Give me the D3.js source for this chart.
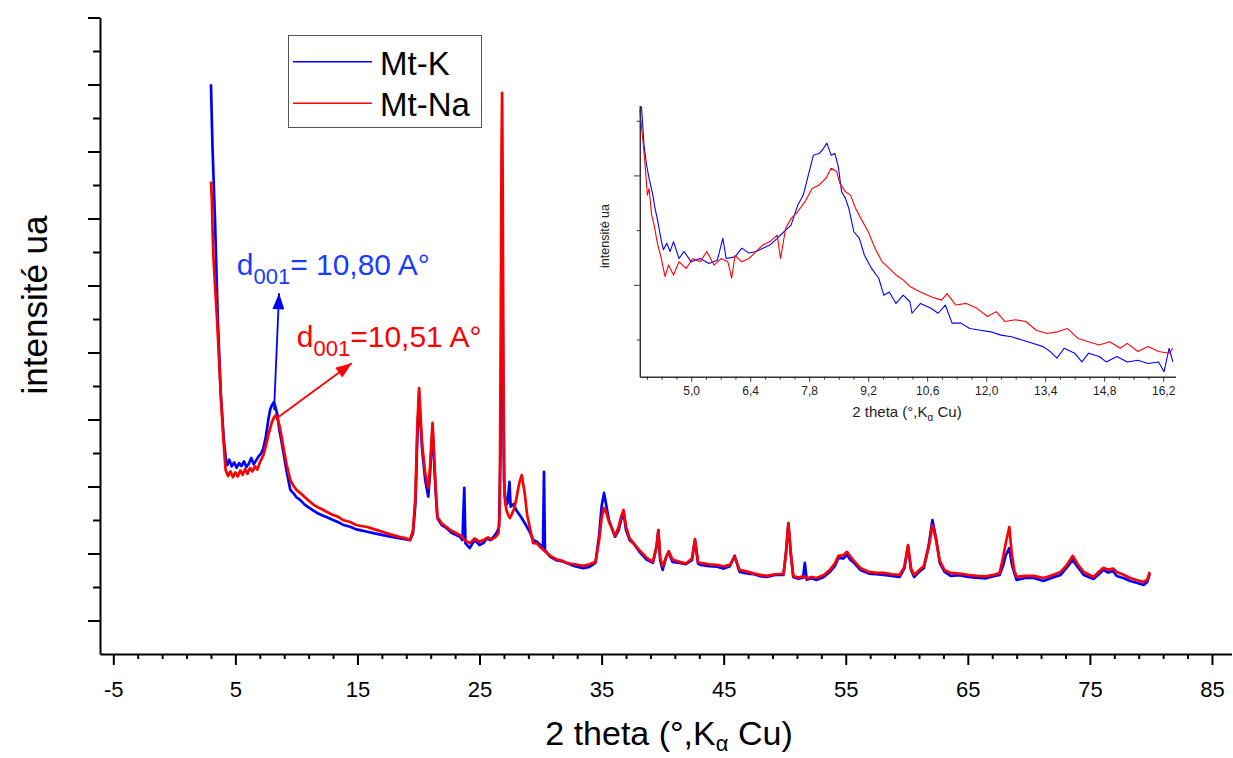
<!DOCTYPE html>
<html>
<head>
<meta charset="utf-8">
<script src="https://cdn.jsdelivr.net/npm/d3@7/dist/d3.min.js"></script>
<style>
    body { margin: 0; background: #fff; }
    svg { font-family: "Liberation Sans", Arial, sans-serif; }
</style>
</head>
<body>
<div id="chart"></div>
<script>
// main pattern, [2 theta, intensity (a.u.)]
var mtK = [[3.0,1701],[3.12,1520],[3.25,1380],[3.33,1296],[3.55,1010],[3.8,778],[4.05,640],[4.23,579],[4.34,564],[4.5,580],[4.7,560],[4.9,572],[5.1,556],[5.3,570],[5.5,561],[5.7,575],[5.9,558],[6.1,568],[6.3,585],[6.5,566],[6.7,578],[6.9,590],[7.1,598],[7.3,615],[7.5,650],[7.7,699],[7.85,730],[8.0,743],[8.15,752],[8.3,735],[8.45,712],[8.6,669],[8.75,640],[8.93,603],[9.2,545],[9.5,490],[9.8,478],[10.0,468],[10.3,460],[10.7,445],[11.0,438],[11.4,428],[11.7,421],[12.1,414],[12.5,408],[13.0,400],[13.4,394],[13.8,386],[14.4,380],[14.9,372],[15.3,369],[15.8,365],[16.4,360],[17.1,355],[17.7,350],[18.5,345],[19.0,342],[19.3,340],[19.55,360],[19.75,450],[19.9,640],[20.05,779],[20.15,700],[20.3,609],[20.55,520],[20.8,470],[20.95,540],[21.15,675],[21.3,560],[21.4,490],[21.55,406],[21.9,385],[22.3,376],[22.7,362],[23.1,355],[23.4,350],[23.6,340],[23.75,496],[23.85,330],[24.2,316],[24.5,335],[24.7,337],[25.0,325],[25.3,331],[25.6,345],[25.9,340],[26.2,352],[26.45,365],[26.6,380],[26.72,600],[26.8,1050],[26.85,1206],[26.92,950],[27.0,519],[27.15,445],[27.3,450],[27.45,514],[27.55,440],[27.8,448],[28.0,430],[28.4,409],[28.8,385],[29.1,365],[29.4,340],[29.7,335],[30.0,325],[30.2,320],[30.28,544],[30.36,310],[30.8,290],[31.3,280],[31.8,276],[32.2,271],[32.8,262],[33.5,256],[34.0,260],[34.5,272],[34.8,355],[35.0,440],[35.2,481],[35.4,440],[35.6,400],[35.9,370],[36.1,350],[36.4,370],[36.6,400],[36.8,424],[37.0,370],[37.3,340],[37.6,331],[38.1,305],[38.7,281],[39.2,272],[39.5,320],[39.65,370],[39.8,280],[40.0,251],[40.3,290],[40.5,304],[40.8,275],[41.4,272],[41.9,268],[42.4,280],[42.65,340],[42.9,270],[43.1,266],[43.8,262],[44.4,261],[45.0,255],[45.5,262],[45.9,293],[46.3,245],[47.0,240],[47.5,238],[48.0,232],[48.5,230],[49.2,236],[49.9,236],[50.1,300],[50.3,390],[50.5,300],[50.7,230],[51.1,225],[51.5,228],[51.65,272],[51.8,222],[52.2,226],[52.6,221],[53.2,230],[53.7,245],[54.1,262],[54.4,287],[54.8,285],[55.1,296],[55.4,280],[55.6,275],[56.2,251],[56.9,240],[57.5,238],[58.1,236],[58.8,233],[59.4,230],[59.8,255],[60.1,322],[60.35,250],[60.6,230],[61.0,245],[61.4,257],[61.8,325],[62.1,400],[62.4,345],[62.7,272],[63.1,245],[63.6,233],[64.3,235],[65.0,230],[65.7,228],[66.5,226],[67.1,232],[67.6,236],[67.9,265],[68.1,294],[68.4,316],[68.6,270],[68.8,242],[69.0,221],[69.7,227],[70.4,227],[71.2,218],[71.9,228],[72.6,236],[73.1,258],[73.6,281],[74.0,260],[74.5,236],[75.3,224],[75.8,240],[76.1,251],[76.5,243],[76.9,248],[77.2,233],[77.8,226],[78.3,218],[78.9,212],[79.4,206],[79.7,215],[79.9,239]];

var mtNa = [[3.0,1410],[3.07,1360],[3.15,1240],[3.2,1185],[3.35,1090],[3.5,997],[3.8,779],[4.0,650],[4.2,549],[4.4,531],[4.6,545],[4.8,528],[5.0,542],[5.2,530],[5.4,548],[5.6,535],[5.8,552],[6.0,538],[6.2,555],[6.4,545],[6.6,560],[6.8,550],[7.0,572],[7.3,594],[7.5,622],[7.7,654],[8.0,693],[8.15,705],[8.3,713],[8.45,700],[8.6,684],[8.75,655],[8.93,618],[9.2,565],[9.5,519],[9.8,500],[10.0,490],[10.3,481],[10.7,468],[11.0,458],[11.4,446],[11.7,439],[12.1,432],[12.5,424],[13.0,415],[13.4,410],[13.8,400],[14.4,394],[14.9,385],[15.3,382],[15.8,379],[16.4,372],[17.1,364],[17.7,357],[18.5,349],[19.0,345],[19.3,340],[19.55,370],[19.75,470],[19.9,680],[20.05,794],[20.15,720],[20.3,624],[20.55,540],[20.8,496],[20.95,560],[21.15,690],[21.3,580],[21.4,500],[21.55,409],[21.9,390],[22.3,379],[22.7,368],[23.1,361],[23.5,352],[23.8,340],[24.2,331],[24.6,345],[25.0,335],[25.3,340],[25.7,348],[26.0,342],[26.3,349],[26.55,360],[26.65,420],[26.73,900],[26.8,1500],[26.85,1675],[26.9,1400],[26.96,800],[27.05,470],[27.2,430],[27.35,415],[27.5,406],[27.8,430],[28.0,460],[28.25,510],[28.46,534],[28.7,480],[28.9,415],[29.2,365],[29.4,331],[29.7,330],[30.0,318],[30.4,305],[30.8,293],[31.3,283],[31.8,278],[32.2,271],[32.8,268],[33.5,263],[34.0,268],[34.5,275],[34.8,340],[35.0,405],[35.2,436],[35.4,420],[35.6,395],[35.9,370],[36.1,352],[36.4,380],[36.6,410],[36.8,430],[37.0,380],[37.3,345],[37.6,331],[38.1,310],[38.7,287],[39.2,275],[39.5,320],[39.65,370],[39.8,285],[40.0,263],[40.3,290],[40.5,307],[40.8,282],[41.4,275],[41.9,270],[42.4,285],[42.65,343],[42.9,275],[43.1,272],[43.8,268],[44.4,266],[45.0,262],[45.5,266],[45.9,290],[46.3,251],[47.0,245],[47.5,240],[48.0,236],[48.5,233],[49.2,238],[49.9,239],[50.1,300],[50.3,391],[50.5,300],[50.7,233],[51.1,228],[51.5,232],[51.8,226],[52.2,230],[52.6,227],[53.2,236],[53.7,251],[54.1,270],[54.4,293],[54.8,295],[55.1,305],[55.4,290],[55.6,281],[56.2,257],[56.9,245],[57.5,242],[58.1,242],[58.8,238],[59.4,236],[59.8,260],[60.1,325],[60.35,255],[60.6,236],[61.0,250],[61.4,263],[61.8,320],[62.1,385],[62.4,340],[62.7,278],[63.1,250],[63.6,242],[64.3,240],[65.0,236],[65.7,233],[66.5,232],[67.1,236],[67.6,242],[67.9,290],[68.1,330],[68.4,379],[68.6,300],[68.8,250],[69.0,230],[69.7,233],[70.4,233],[71.2,227],[71.9,235],[72.6,245],[73.1,265],[73.6,293],[74.0,268],[74.5,245],[75.3,230],[75.8,248],[76.1,257],[76.5,252],[76.9,255],[77.2,245],[77.8,236],[78.3,227],[78.9,220],[79.4,215],[79.7,222],[79.9,245]];

// inset (low angle zoom)
var insetK = [[3.82,526],[3.88,456],[3.94,419],[4.0,395],[4.09,364],[4.14,340],[4.21,315],[4.28,285],[4.34,264],[4.42,276],[4.5,261],[4.58,279],[4.71,248],[4.83,261],[5.0,242],[5.21,248],[5.42,239],[5.62,245],[5.75,285],[5.83,248],[6.04,251],[6.2,267],[6.37,258],[6.54,261],[6.7,267],[6.87,273],[7.04,285],[7.2,297],[7.37,309],[7.53,346],[7.66,364],[7.78,401],[7.9,437],[8.03,440],[8.11,446],[8.22,459],[8.32,437],[8.41,440],[8.49,416],[8.57,370],[8.66,358],[8.74,340],[8.86,297],[8.99,285],[9.11,254],[9.28,230],[9.45,212],[9.57,181],[9.7,187],[9.86,166],[10.03,181],[10.19,169],[10.24,148],[10.44,166],[10.69,157],[10.86,148],[11.03,163],[11.19,130],[11.4,130],[11.61,120],[11.86,117],[12.11,114],[12.35,108],[12.6,105],[12.85,99],[13.1,93],[13.35,87],[13.52,78],[13.68,66],[13.85,84],[14.1,75],[14.27,59],[14.43,75],[14.68,69],[14.85,59],[15.1,69],[15.35,59],[15.6,62],[15.84,56],[16.09,59],[16.22,41],[16.34,84],[16.43,59]];

var insetNa = [[3.78,520],[3.84,474],[3.9,425],[3.96,364],[4.0,376],[4.06,328],[4.13,306],[4.19,279],[4.29,248],[4.38,215],[4.46,236],[4.58,218],[4.71,242],[4.88,230],[5.04,248],[5.21,242],[5.37,261],[5.54,236],[5.71,248],[5.87,242],[5.96,212],[6.04,254],[6.2,242],[6.37,248],[6.54,261],[6.7,273],[6.87,279],[7.04,291],[7.12,248],[7.24,303],[7.37,321],[7.53,334],[7.7,352],[7.87,376],[8.03,382],[8.2,395],[8.32,413],[8.45,407],[8.53,385],[8.66,370],[8.78,364],[8.9,340],[9.03,321],[9.2,297],[9.36,267],[9.53,242],[9.7,230],[9.86,218],[10.03,209],[10.19,197],[10.44,187],[10.69,178],[10.94,172],[11.07,184],[11.28,163],[11.53,166],[11.78,157],[12.03,142],[12.24,151],[12.44,133],[12.69,136],[12.94,133],[13.19,117],[13.44,111],[13.69,114],[13.93,120],[14.18,102],[14.43,96],[14.68,90],[14.93,96],[15.18,84],[15.35,93],[15.6,78],[15.84,87],[16.09,78],[16.34,75],[16.43,84]];

var x_major = [-5, 5, 15, 25, 35, 45, 55, 65, 75, 85];
var y_major = [100, 300, 500, 700, 900, 1100, 1300, 1500, 1700, 1900];
var inset_x_major = [5.0, 6.4, 7.8, 9.2, 10.6, 12.0, 13.4, 14.8, 16.2];
var inset_y_major = [200, 400];
var inset_y_minor = [100, 300, 500];

var series_names = ["Mt-K", "Mt-Na"];
var series_colors = ["#0000ff", "#ff0000"];

// d001 annotations: text anchor and arrow (from -> to) in data units
var notes = [
    { "label": "= 10,80 A°", "tx": 5.11, "ty": 1131, "from": [8.17, 728], "to": [8.58, 1077], "color": "#1a3cff", "arrow": "#0000ff" },
    { "label": "=10,51 A°", "tx": 10.03, "ty": 917, "from": [8.39, 704], "to": [14.53, 868], "color": "#ff0000", "arrow": "#ff0000" }
];

var width = 1233;
var height = 758;

var svg = d3.select("#chart")
    .append("svg")
    .attr("width", width)
    .attr("height", height);

var x = d3.scaleLinear().domain([-6.09, 86.6]).range([100, 1231.5]);
var y = d3.scaleLinear().domain([0, 1900]).range([654, 17.5]);

var line = d3.line()
    .x(function (d) { return x(d[0]); })
    .y(function (d) { return y(d[1]); });

// curves (red on top)
[mtK, mtNa].forEach(function (s, i) {
    svg.append("path")
        .datum(s)
        .attr("d", line)
        .attr("fill", "none")
        .attr("stroke", series_colors[i])
        .attr("stroke-width", 2.7)
        .attr("stroke-linejoin", "round");
});

// x axis
var x_minor = d3.range(-3, 86, 2).filter(function (v) { return x_major.indexOf(v) < 0; });
svg.append("g")
    .attr("transform", "translate(0,654)")
    .call(d3.axisBottom(x).tickValues(x_minor).tickSize(5).tickSizeOuter(0).tickFormat(""))
    .call(function (g) { g.select(".domain").remove(); })
    .selectAll("line").attr("stroke-width", 2);
var gx = svg.append("g")
    .attr("transform", "translate(0,654)")
    .call(d3.axisBottom(x).tickValues(x_major).tickSize(11).tickSizeOuter(0).tickPadding(16)
        .tickFormat(function (d) { return String(d); }));
gx.select(".domain").attr("stroke-width", 2);
gx.selectAll("line").attr("stroke-width", 2);
gx.selectAll("text").attr("font-size", 22).attr("font-family", "Liberation Sans, Arial").attr("fill", "#000");

// y axis (no labels)
var y_minor = d3.range(200, 1900, 200);
svg.append("g")
    .attr("transform", "translate(100,0)")
    .call(d3.axisLeft(y).tickValues(y_minor).tickSize(7).tickSizeOuter(0).tickFormat(""))
    .call(function (g) { g.select(".domain").remove(); })
    .selectAll("line").attr("stroke-width", 2);
var gy = svg.append("g")
    .attr("transform", "translate(100,0)")
    .call(d3.axisLeft(y).tickValues(y_major).tickSize(12).tickSizeOuter(0).tickFormat(""));
gy.select(".domain").attr("stroke-width", 2);
gy.selectAll("line").attr("stroke-width", 2);

// axis titles
var xt = svg.append("text")
    .attr("x", 669)
    .attr("y", 745)
    .attr("text-anchor", "middle")
    .attr("font-size", 34)
    .attr("fill", "#000");
xt.append("tspan").text("2 theta (°,K");
xt.append("tspan").attr("font-size", 22).attr("dy", 6).text("α");
xt.append("tspan").attr("dy", -6).text(" Cu)");

svg.append("text")
    .attr("transform", "translate(47,305) rotate(-90)")
    .attr("text-anchor", "middle")
    .attr("font-size", 35)
    .attr("fill", "#000")
    .text("intensité ua");

// legend
var legend = svg.append("g");
legend.append("rect")
    .attr("x", 288.5).attr("y", 35.5)
    .attr("width", 193).attr("height", 92)
    .attr("fill", "#fff")
    .attr("stroke", "#555")
    .attr("stroke-width", 1);
series_names.forEach(function (name, i) {
    var ly = 61.7 + i * 41.6;
    legend.append("line")
        .attr("x1", 293).attr("x2", 372)
        .attr("y1", ly).attr("y2", ly)
        .attr("stroke", series_colors[i])
        .attr("stroke-width", 1.5);
    legend.append("text")
        .attr("x", 380).attr("y", ly + 13)
        .attr("font-size", 33)
        .attr("fill", "#000")
        .text(name);
});

// arrow heads
var defs = svg.append("defs");
notes.forEach(function (n, i) {
    defs.append("marker")
        .attr("id", "head" + i)
        .attr("viewBox", "0 0 16 12")
        .attr("refX", 16).attr("refY", 6)
        .attr("markerWidth", 17).attr("markerHeight", 12)
        .attr("markerUnits", "userSpaceOnUse")
        .attr("orient", "auto")
        .append("path")
        .attr("d", "M0,0 L16,6 L0,12 Z")
        .attr("fill", n.arrow);
});

notes.forEach(function (n, i) {
    svg.append("line")
        .attr("x1", x(n.from[0])).attr("y1", y(n.from[1]))
        .attr("x2", x(n.to[0])).attr("y2", y(n.to[1]))
        .attr("stroke", n.arrow)
        .attr("stroke-width", 1.8)
        .attr("marker-end", "url(#head" + i + ")");
    var t = svg.append("text")
        .attr("x", x(n.tx)).attr("y", y(n.ty))
        .attr("font-size", 30)
        .attr("fill", n.color);
    t.append("tspan").text("d");
    t.append("tspan").attr("font-size", 22).attr("dy", 9).text("001");
    t.append("tspan").attr("dy", -9).text(n.label);
});

// inset
var ix = d3.scaleLinear().domain([3.78, 16.49]).range([639.8, 1175.4]);
var iy = d3.scaleLinear().domain([32, 528]).range([376.7, 105.4]);
var iline = d3.line()
    .x(function (d) { return ix(d[0]); })
    .y(function (d) { return iy(d[1]); });

var inset = svg.append("g");
[insetK, insetNa].forEach(function (s, i) {
    inset.append("path")
        .datum(s)
        .attr("d", iline)
        .attr("fill", "none")
        .attr("stroke", series_colors[i])
        .attr("stroke-width", 1.1)
        .attr("stroke-linejoin", "round");
});

var inset_x_minor = d3.range(3.95, 16.5, 0.35).filter(function (v) {
    return inset_x_major.every(function (m) { return Math.abs(m - v) > 0.05; });
});
inset.append("g")
    .attr("transform", "translate(0,376.7)")
    .call(d3.axisBottom(ix).tickValues(inset_x_minor).tickSize(3).tickSizeOuter(0).tickFormat(""))
    .call(function (g) { g.select(".domain").remove(); })
    .selectAll("line").attr("stroke", "#333");
var igx = inset.append("g")
    .attr("transform", "translate(0,376.7)")
    .call(d3.axisBottom(ix).tickValues(inset_x_major).tickSize(5).tickSizeOuter(0).tickPadding(5)
        .tickFormat(function (d) { return d3.format(".1f")(d).replace(".", ","); }));
igx.select(".domain").attr("stroke", "#333").attr("stroke-width", 1.5);
igx.selectAll("line").attr("stroke", "#333");
igx.selectAll("text").attr("font-size", 12).attr("font-family", "Liberation Sans, Arial").attr("fill", "#222");

inset.append("g")
    .attr("transform", "translate(639.8,0)")
    .call(d3.axisLeft(iy).tickValues(inset_y_minor).tickSize(3).tickSizeOuter(0).tickFormat(""))
    .call(function (g) { g.select(".domain").remove(); })
    .selectAll("line").attr("stroke", "#333");
var igy = inset.append("g")
    .attr("transform", "translate(639.8,0)")
    .call(d3.axisLeft(iy).tickValues(inset_y_major).tickSize(6).tickSizeOuter(0).tickFormat(""));
igy.select(".domain").attr("stroke", "#333").attr("stroke-width", 1.5);
igy.selectAll("line").attr("stroke", "#333");

var ixt = inset.append("text")
    .attr("x", 907)
    .attr("y", 417)
    .attr("text-anchor", "middle")
    .attr("font-size", 15)
    .attr("fill", "#222");
ixt.append("tspan").text("2 theta (°,K");
ixt.append("tspan").attr("font-size", 10).attr("dy", 4).text("α");
ixt.append("tspan").attr("dy", -4).text(" Cu)");

inset.append("text")
    .attr("transform", "translate(609,236) rotate(-90)")
    .attr("text-anchor", "middle")
    .attr("font-size", 12.5)
    .attr("fill", "#222")
    .text("intensité ua");
</script>
</body>
</html>
